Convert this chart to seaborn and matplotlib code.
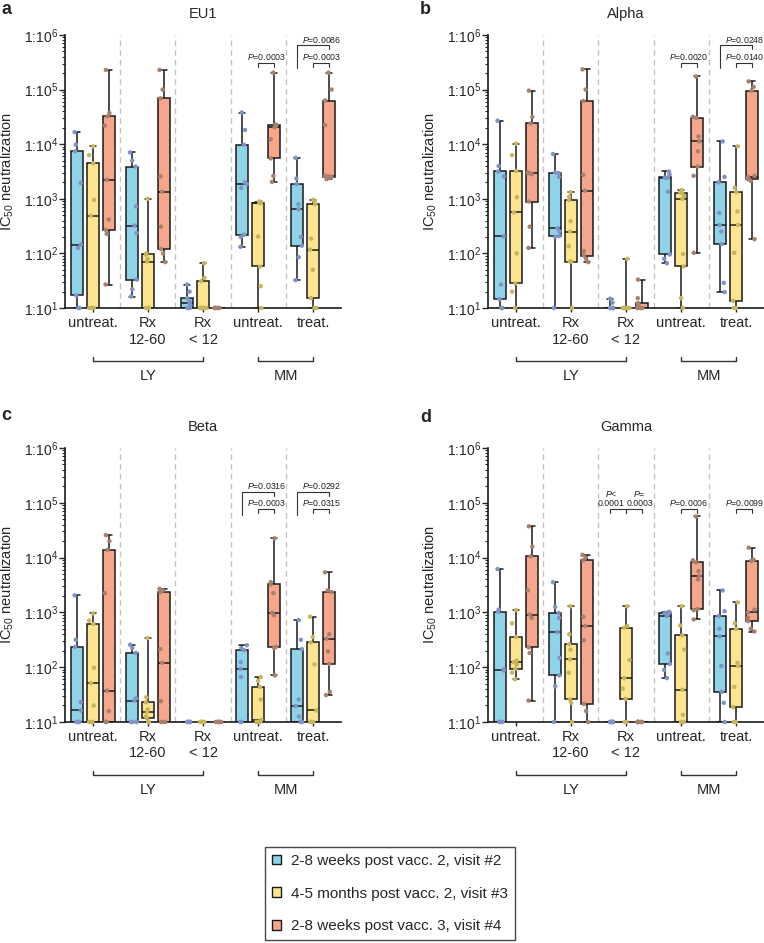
import numpy as np
import pandas as pd
import seaborn as sns
import matplotlib.pyplot as plt
from matplotlib.patches import Patch
from matplotlib.ticker import FixedLocator

# log10 of IC50 titres (1 = detection floor 1:10)
groups = ['LY untreat.', 'LY Rx 12-60', 'LY Rx <12', 'MM untreat.', 'MM treat.']
group_labels = ['untreat.', 'Rx\n12-60', 'Rx\n< 12', 'untreat.', 'treat.']
visits = ['2-8 weeks post vacc. 2, visit #2',
          '4-5 months post vacc. 2, visit #3',
          '2-8 weeks post vacc. 3, visit #4']
variants = ['EU1', 'Alpha', 'Beta', 'Gamma']
panel_letters = ['a', 'b', 'c', 'd']

eu1_v2 = [[1.0, 1.0, 1.23, 2.10, 2.16, 3.29, 3.87, 3.99, 4.22],
          [1.21, 1.34, 1.52, 2.37, 2.51, 2.86, 3.59, 3.70, 3.85],
          [1.0, 1.0, 1.0, 1.05, 1.09, 1.12, 1.18, 1.30, 1.43],
          [2.12, 2.30, 2.34, 3.20, 3.27, 3.30, 3.99, 4.26, 4.58],
          [1.51, 1.93, 2.14, 2.30, 2.81, 2.90, 3.27, 3.37, 3.75]]
eu1_v3 = [[1.0, 1.0, 1.0, 1.0, 2.69, 2.98, 3.65, 3.80, 3.96],
          [1.0, 1.0, 1.0, 1.0, 1.85, 1.90, 1.98, 2.00, 3.00],
          [1.0, 1.0, 1.0, 1.0, 1.0, 1.0, 1.49, 1.55, 1.82],
          [1.0, 1.40, 1.76, 2.31, 2.92, 2.93, 2.93, 2.94, 2.95],
          [1.0, 1.0, 1.18, 1.70, 2.07, 2.27, 2.90, 2.95, 2.98]]
eu1_v4 = [[1.43, 2.36, 2.43, 2.62, 3.35, 4.34, 4.51, 4.57, 5.36],
          [1.84, 2.00, 2.08, 2.49, 3.13, 3.41, 4.84, 5.00, 5.36],
          [1.0, 1.0, 1.0, 1.0, 1.0, 1.0, 1.0],
          [3.31, 3.42, 3.74, 4.09, 4.31, 4.33, 4.35, 4.36, 5.31],
          [3.36, 3.38, 3.40, 3.41, 3.42, 4.35, 4.80, 5.00, 5.31]]

alpha_v2 = [[1.0, 1.0, 1.16, 1.43, 2.31, 3.41, 3.50, 3.60, 4.43],
            [1.0, 2.30, 2.32, 2.40, 2.46, 3.40, 3.47, 3.48, 3.82],
            [1.0, 1.0, 1.0, 1.0, 1.0, 1.0, 1.0, 1.10, 1.17],
            [1.82, 1.90, 1.98, 3.13, 3.38, 3.39, 3.39, 3.45, 3.50],
            [1.29, 1.46, 2.17, 2.40, 2.52, 2.74, 3.30, 3.40, 4.05]]
alpha_v3 = [[1.0, 1.30, 1.45, 2.00, 2.75, 3.03, 3.51, 3.80, 4.01],
            [1.0, 1.85, 1.85, 2.13, 2.40, 2.59, 2.98, 3.04, 3.12],
            [1.0, 1.0, 1.0, 1.0, 1.0, 1.0, 1.0, 1.0, 1.90],
            [1.0, 1.18, 1.76, 1.99, 3.00, 3.05, 3.10, 3.12, 3.16],
            [1.0, 1.0, 1.13, 2.01, 2.52, 2.77, 3.12, 3.20, 3.96]]
alpha_v4 = [[2.10, 2.49, 2.95, 3.45, 3.47, 3.48, 4.38, 4.50, 4.98],
            [1.84, 1.90, 1.96, 2.04, 3.15, 3.44, 4.79, 5.00, 5.37],
            [1.0, 1.0, 1.0, 1.0, 1.0, 1.05, 1.09, 1.18, 1.52],
            [2.01, 3.42, 3.59, 3.87, 4.05, 4.14, 4.48, 4.50, 5.24],
            [2.26, 3.33, 3.36, 3.38, 3.40, 3.42, 4.98, 5.05, 5.15]]

beta_v2 = [[1.0, 1.0, 1.0, 1.0, 1.21, 1.36, 2.37, 2.50, 3.31],
           [1.0, 1.0, 1.0, 1.0, 1.39, 1.43, 2.26, 2.35, 2.41],
           [1.0, 1.0, 1.0, 1.0, 1.0, 1.0, 1.0],
           [1.0, 1.0, 1.0, 1.82, 1.97, 2.09, 2.31, 2.35, 2.40],
           [1.0, 1.0, 1.0, 1.10, 1.29, 1.41, 2.33, 2.50, 2.86]]
beta_v3 = [[1.0, 1.0, 1.0, 1.30, 1.71, 1.99, 2.79, 2.85, 2.98],
           [1.0, 1.0, 1.07, 1.10, 1.18, 1.23, 1.36, 1.45, 2.53],
           [1.0, 1.0, 1.0, 1.0, 1.0, 1.0, 1.0],
           [1.0, 1.0, 1.0, 1.0, 1.04, 1.41, 1.64, 1.75, 1.82],
           [1.0, 1.0, 1.0, 1.0, 1.21, 2.05, 2.45, 2.55, 2.92]]
beta_v4 = [[1.0, 1.0, 1.0, 1.20, 1.57, 3.35, 4.14, 4.30, 4.41],
           [1.0, 1.0, 1.0, 1.38, 2.08, 2.33, 3.37, 3.40, 3.43],
           [1.0, 1.0, 1.0, 1.0, 1.0, 1.0, 1.0],
           [1.85, 2.35, 2.37, 2.95, 2.99, 3.35, 3.51, 3.55, 4.35],
           [1.49, 1.55, 2.06, 2.29, 2.52, 2.60, 3.37, 3.40, 3.73]]

gamma_v2 = [[1.0, 1.0, 1.0, 1.0, 1.94, 1.96, 3.01, 3.05, 3.79],
            [1.0, 1.65, 1.85, 2.17, 2.64, 2.90, 2.99, 3.10, 3.55],
            [1.0, 1.0, 1.0, 1.0, 1.0, 1.0, 1.0, 1.0, 1.0],
            [1.80, 1.95, 2.06, 2.25, 2.93, 2.96, 2.99, 3.00, 3.01],
            [1.0, 1.35, 1.55, 2.02, 2.56, 2.70, 2.93, 3.02, 3.40]]
gamma_v3 = [[1.78, 1.90, 1.97, 2.05, 2.09, 2.12, 2.55, 2.80, 3.04],
            [1.0, 1.35, 1.41, 1.90, 2.14, 2.32, 2.42, 2.60, 3.11],
            [1.0, 1.0, 1.42, 1.61, 1.80, 2.13, 2.72, 2.75, 3.11],
            [1.0, 1.0, 1.0, 1.13, 1.59, 2.32, 2.58, 2.76, 3.11],
            [1.0, 1.0, 1.27, 1.64, 2.02, 2.08, 2.70, 2.80, 3.18]]
gamma_v4 = [[1.39, 2.26, 2.36, 2.90, 2.96, 3.40, 4.02, 4.20, 4.57],
            [1.0, 1.20, 1.33, 2.49, 2.75, 2.92, 3.95, 4.00, 4.05],
            [1.0, 1.0, 1.0, 1.0, 1.0, 1.0, 1.0, 1.0, 1.0],
            [2.87, 3.04, 3.06, 3.60, 3.66, 3.75, 3.91, 3.95, 4.75],
            [2.65, 2.70, 2.84, 2.90, 3.00, 3.05, 3.94, 3.96, 4.18]]

# p values: (group index, pair, label); 'yo' = visit 3 vs 4, 'bo' = visit 2 vs 4, 'by' = visit 2 vs 3
pvals_eu1 = [(3, 'yo', 'P=0.0003'), (4, 'yo', 'P=0.0003'), (4, 'bo', 'P=0.0086')]
pvals_alpha = [(3, 'yo', 'P=0.0020'), (4, 'yo', 'P=0.0140'), (4, 'bo', 'P=0.0248')]
pvals_beta = [(3, 'yo', 'P=0.0003'), (3, 'bo', 'P=0.0316'), (4, 'yo', 'P=0.0315'), (4, 'bo', 'P=0.0292')]
pvals_gamma = [(2, 'by', 'P<\n0.0001'), (2, 'yo', 'P=\n0.0003'), (3, 'yo', 'P=0.0006'), (4, 'yo', 'P=0.0099')]

box_colors = ['#8ed3e8', '#fde58f', '#f6a68a']
dot_colors = ['#7f93c8', '#c8b45a', '#a8806e']

sns.set_style('ticks')
plt.rcParams['font.family'] = ['Liberation Sans', 'DejaVu Sans']
plt.rcParams['mathtext.fontset'] = 'custom'
plt.rcParams['mathtext.rm'] = 'Liberation Sans'
plt.rcParams['mathtext.it'] = 'Liberation Sans:italic'


def make_frame(v2, v3, v4):
    rows = []
    for visit, lists in zip(visits, [v2, v3, v4]):
        for g, vals in zip(groups, lists):
            for v in vals:
                rows.append({'group': g, 'visit': visit, 'log_ic50': v})
    return pd.DataFrame(rows)


def p_label(text):
    return text.replace('P', r'$\it{P}$')


def draw_panel(ax, df, title, pvals, short_y, long_y, long_drop):
    off = 0.29
    for x in [0.5, 1.5, 2.5, 3.5]:
        ax.axvline(x, color='#c4c4c4', lw=1.0, ls=(0, (4, 3)), zorder=0)
    sns.boxplot(data=df, x='group', y='log_ic50', hue='visit', order=groups,
                hue_order=visits, palette=box_colors, width=0.87, gap=0.25,
                whis=(0, 100), linecolor='#1a1a1a', linewidth=1.1, saturation=1,
                showfliers=False, legend=False, ax=ax)
    np.random.seed(3)
    sns.stripplot(data=df, x='group', y='log_ic50', hue='visit', order=groups,
                  hue_order=visits, palette=dot_colors, dodge=True, jitter=0.2,
                  size=3.2, linewidth=0, legend=False, ax=ax, zorder=3)
    for c in ax.collections:
        c.set_clip_on(False)

    ax.set_xlim(-0.5, 4.5)
    ax.set_ylim(1, 6)
    ax.set_yticks(range(1, 7))
    ax.set_yticklabels([r'1:10$^{%d}$' % n for n in range(1, 7)], fontsize=10)
    ax.yaxis.set_minor_locator(FixedLocator(
        [n + np.log10(k) for n in range(1, 6) for k in range(2, 10)]))
    ax.tick_params(axis='y', which='major', length=4, width=1, pad=1)
    ax.tick_params(axis='y', which='minor', length=2, width=0.8)
    ax.set_xticks(range(5))
    ax.set_xticklabels(group_labels, fontsize=10.5)
    ax.tick_params(axis='x', length=3, width=1, pad=3)
    for s in ['top', 'right']:
        ax.spines[s].set_visible(False)
    for s in ['left', 'bottom']:
        ax.spines[s].set_linewidth(1.2)
        ax.spines[s].set_color('#1a1a1a')
    ax.set_xlabel('')
    ax.set_ylabel(r'IC$_{50}$ neutralization', fontsize=10.5)
    ax.yaxis.set_label_coords(-0.178, 0.5)
    ax.set_title(title, fontsize=10.5, pad=12)

    # LY / MM group brackets under the axis
    tr = ax.get_xaxis_transform()
    for x1, x2, name in [(0, 2, 'LY'), (3, 4, 'MM')]:
        ax.plot([x1, x1, x2, x2], [-0.178, -0.193, -0.193, -0.178], transform=tr,
                color='#333333', lw=1.0, clip_on=False)
        ax.text((x1 + x2) / 2, -0.222, name, transform=tr, ha='center',
                va='top', fontsize=10.5)

    # significance brackets
    drop = 0.07
    for g, pair, text in pvals:
        if pair == 'yo':
            x1, x2, y = g, g + off, short_y
            ax.plot([x1, x1, x2, x2], [y - drop, y, y, y - drop], color='#333333',
                    lw=0.8, clip_on=False)
            tx = (x1 + x2) / 2
            if '\n' in text:
                tx += 0.1
        elif pair == 'by':
            x1, x2, y = g - off, g, short_y
            ax.plot([x1, x1, x2, x2], [y - drop, y, y, y - drop], color='#333333',
                    lw=0.8, clip_on=False)
            tx = (x1 + x2) / 2 - 0.12
        else:
            x1, x2, y = g - off, g + off, long_y
            ax.plot([x1, x1, x2, x2], [long_drop, y, y, y - drop], color='#333333',
                    lw=0.8, clip_on=False)
            tx = g + off / 2
        ax.text(tx, y + 0.015, p_label(text), ha='center', va='bottom',
                fontsize=6.3, linespacing=1.1, color='#222222')


fig = plt.figure(figsize=(7.64, 9.43), dpi=100)
positions = [[0.0851, 0.6734, 0.3613, 0.2895], [0.6387, 0.6734, 0.3613, 0.2895],
             [0.0851, 0.2344, 0.3613, 0.2906], [0.6387, 0.2344, 0.3613, 0.2906]]
letter_xy = [(1, 10), (420, 10), (1, 415), (420, 417)]
frames = [make_frame(eu1_v2, eu1_v3, eu1_v4), make_frame(alpha_v2, alpha_v3, alpha_v4),
          make_frame(beta_v2, beta_v3, beta_v4), make_frame(gamma_v2, gamma_v3, gamma_v4)]
all_pvals = [pvals_eu1, pvals_alpha, pvals_beta, pvals_gamma]
levels = [(5.49, 5.81, 5.40), (5.49, 5.81, 5.40), (4.89, 5.19, 4.78), (4.88, 5.19, 4.78)]

for pos, df, name, letter, (lx, ly), pv, lv in zip(positions, frames, variants,
                                                   panel_letters, letter_xy,
                                                   all_pvals, levels):
    ax = fig.add_axes(pos)
    draw_panel(ax, df, name, pv, *lv)
    fig.text(lx / 764, 1 - ly / 943, letter, fontsize=13, fontweight='bold',
             ha='left', va='center')

handles = [Patch(facecolor=c, edgecolor='#1a1a1a', linewidth=1) for c in box_colors]
leg = fig.legend(handles=handles, labels=visits, loc='upper left',
                 bbox_to_anchor=(265 / 764, 1 - 847 / 943), frameon=True,
                 fancybox=False, edgecolor='#1a1a1a', fontsize=11,
                 handlelength=0.62, handleheight=0.62, labelspacing=1.22,
                 borderpad=0.45, handletextpad=0.65, borderaxespad=0)
leg.get_frame().set_linewidth(1.0)

fig.savefig('out.png', dpi=100)
